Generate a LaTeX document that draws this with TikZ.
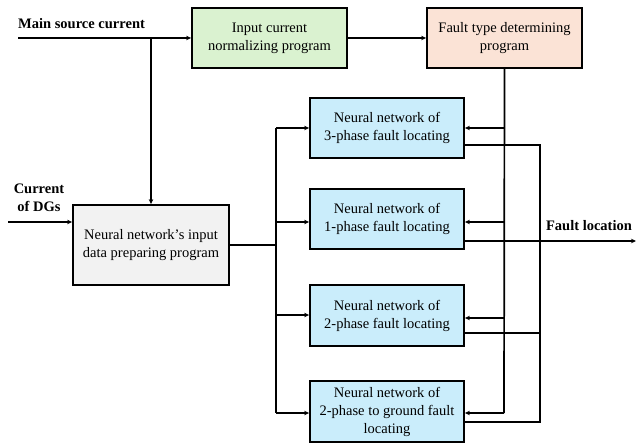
\documentclass[tikz,border=0pt]{standalone}
\usepackage{fontspec}
\setmainfont{Liberation Serif}
\usetikzlibrary{arrows.meta}
\definecolor{cgreen}{HTML}{DAF2D0}
\definecolor{corange}{HTML}{FBE3D6}
\definecolor{cgray}{HTML}{F2F2F2}
\definecolor{cblue}{HTML}{CAEDFB}
\begin{document}
\begin{tikzpicture}[x={(1pt,0)},y={(0,-1pt)},
  font=\fontsize{14.5}{18}\selectfont,
  box/.style={draw, line width=1.8pt, align=center, inner sep=2pt},
  conn/.style={line width=1.7pt},
  arr/.style={conn, -{Stealth[length=5pt,width=4.5pt]}},
  lbl/.style={font=\fontsize{14.5}{18}\selectfont\bfseries, align=center, inner sep=0pt}]
\useasboundingbox (0,0) rectangle (636,443);
% boxes
\node[box, fill=cgreen, minimum width=155pt, minimum height=60pt] (green) at (269.5,38) {Input current\\normalizing program};
\node[box, fill=corange, minimum width=155pt, minimum height=60pt] (orange) at (504.5,38) {Fault type determining\\program};
\node[box, fill=cgray, minimum width=156pt, minimum height=80pt] (gray) at (151,245) {Neural network’s input\\data preparing program};
\node[box, fill=cblue, minimum width=154pt, minimum height=60pt] (b1) at (387,128) {Neural network of\\3-phase fault locating};
\node[box, fill=cblue, minimum width=154pt, minimum height=60pt] (b2) at (387,219) {Neural network of\\1-phase fault locating};
\node[box, fill=cblue, minimum width=154pt, minimum height=61pt] (b3) at (387,315.5) {Neural network of\\2-phase fault locating};
\node[box, fill=cblue, minimum width=154pt, minimum height=61pt] (b4) at (387,411.5) {Neural network of\\2-phase to ground fault\\locating};
% labels
\node[lbl, anchor=west] (lms) at (18,24) {Main source current};
\node[lbl] (ldg) at (39,198) {Current\\of DGs};
\node[lbl] (lfl) at (589,226) {Fault location};
% coordinates
\coordinate (ms) at (18,38);
\coordinate (j1) at (151,38);
\coordinate (dg) at (8,222);
\coordinate (gout) at (276,245);
\coordinate (fl) at (636,241);
% main source
\draw[arr] (ms) -- (green.west);
\draw[conn] (j1) |- (ms);
\draw[arr] (j1) -- (gray.north);
\draw[arr] (green.east) -- (orange.west);
% DGs
\draw[arr] (dg) -- (dg -| gray.west);
% input bus
\draw[conn] (gray.east |- gout) -- (gout);
\draw[conn] (276,128) -- (276,413);
\draw[arr] (276,128) -- (b1.west |- 0,128);
\draw[arr] (276,222) -- (b2.west |- 0,222);
\draw[arr] (276,315) -- (b3.west |- 0,315);
\draw[arr] (276,413) -- (b4.west |- 0,413);
% fault type bus
\draw[conn] (orange.south) -- (504,413);
\draw[arr] (504,128) -- (b1.east |- 0,128);
\draw[arr] (504,222) -- (b2.east |- 0,222);
\draw[arr] (504,318) -- (b3.east |- 0,318);
\draw[arr] (504,413) -- (b4.east |- 0,413);
% output bus
\draw[conn] (b1.east |- 0,145) -| (540,422) -- (b4.east |- 0,422);
\draw[conn] (b3.east |- 0,333) -- (540,333);
\draw[arr] (b2.east |- 0,241) -- (fl);
\end{tikzpicture}
\end{document}
